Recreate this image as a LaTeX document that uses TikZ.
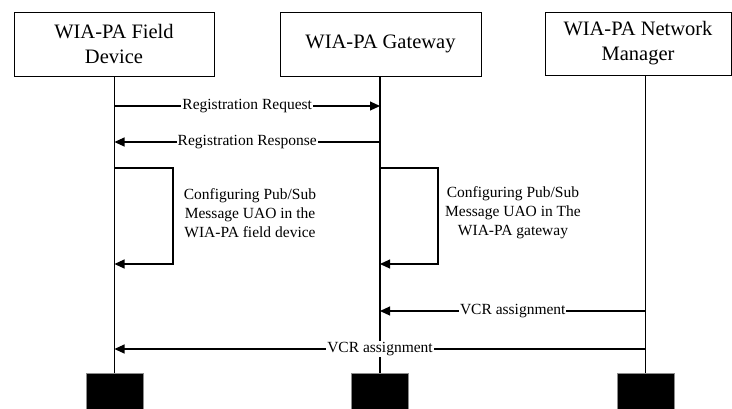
\documentclass[tikz,border=0pt]{standalone}
\usepackage{fontspec}
\setmainfont{Liberation Serif}
\usetikzlibrary{arrows.meta}
\begin{document}
\begin{tikzpicture}[x=1pt,y=-1pt,
  actor/.style={draw,line width=0.9pt,minimum width=200pt,minimum height=64pt,
    align=center,font=\fontsize{20.5}{25}\selectfont,inner sep=0pt},
  lifeline/.style={line width=1.1pt},
  msg/.style={line width=1.1pt,-{Triangle[length=10pt,width=9pt]}},
  msglabel/.style={fill=white,inner sep=1pt,font=\fontsize{15.5}{18.5}\selectfont},
  note/.style={align=center,font=\fontsize{15.5}{19}\selectfont,inner sep=0pt},
  endbox/.style={fill=black,draw=black!45,line width=0.4pt,minimum width=57pt,
    minimum height=36pt,inner sep=0pt}]
  \useasboundingbox (0,0) rectangle (732,408);

  % participants
  \node[actor] (fd) at (114,44) {WIA-PA Field\\Device};
  \node[actor,minimum width=201pt] (gw) at (380.5,44) {WIA-PA Gateway};
  \node[actor,minimum width=186pt,minimum height=63pt] (nm) at (638,43.5) {WIA-PA Network\\Manager};

  % lifeline ends
  \node[endbox] (fdend) at (114.5,391) {};
  \node[endbox] (gwend) at (380,391) {};
  \node[endbox] (nmend) at (645.5,391) {};

  \draw[lifeline] (fd.south -| fdend.north) -- (fdend.north);
  \draw[lifeline] (gw.south -| gwend.north) -- (gwend.north);
  \draw[lifeline] (nm.south -| nmend.north) -- (nmend.north);

  % anchor points on the lifelines
  \coordinate (fd1) at (114.5,106);   \coordinate (gw1) at (380,106);
  \coordinate (fd2) at (114.5,142);   \coordinate (gw2) at (380,142);
  \coordinate (fd3) at (114.5,168);   \coordinate (fd4) at (114.5,264);
  \coordinate (gw3) at (380,168);     \coordinate (gw4) at (380,264);
  \coordinate (gw5) at (380,311);     \coordinate (nm5) at (645.5,311);
  \coordinate (fd6) at (114.5,349);   \coordinate (nm6) at (645.5,349);

  % registration
  \draw[msg] (fd1) -- node[msglabel] (lreq) {Registration Request} (gw1);
  \draw[msg] (gw2) -- node[msglabel] (lresp) {Registration Response} (fd2);

  % local configuration loops
  \draw[msg] (fd3) -- ++(58.5,0) |- (fd4);
  \node[note] (nfd) at (250,213) {Configuring Pub/Sub\\Message UAO in the\\WIA-PA field device};
  \draw[msg] (gw3) -- ++(58,0) |- (gw4);
  \node[note] (ngw) at (513,213) {Configuring Pub/Sub\\Message UAO in The\\WIA-PA gateway};

  % VCR assignment
  \draw[msg] (nm5) -- node[msglabel] (lvcr1) {VCR assignment} (gw5);
  \draw[msg] (nm6) -- node[msglabel] (lvcr2) {VCR assignment} (fd6);
\end{tikzpicture}
\end{document}
